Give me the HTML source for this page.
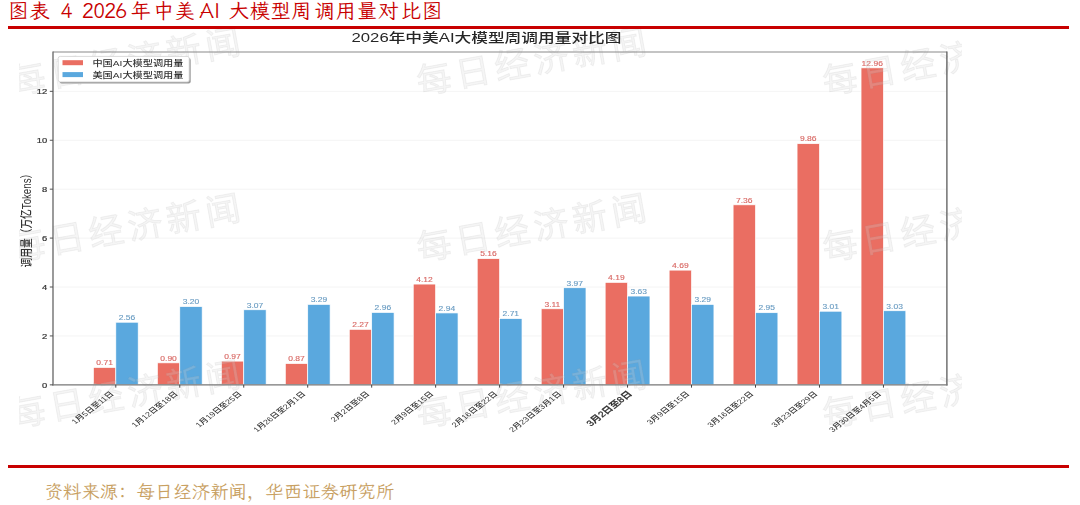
<!DOCTYPE html>
<html lang="zh"><head><meta charset="utf-8"><title>2026年中美AI大模型周调用量对比图</title>
<style>
html,body{margin:0;padding:0;background:#fff;}
body{width:1080px;height:505px;position:relative;overflow:hidden;}
.tsvg text.title{font-family:"LXGW WenKai TC","Noto Serif CJK SC",serif;font-size:20.5px;fill:#c80000;white-space:pre;}
.rl{position:absolute;left:8px;width:1061px;height:3px;background:#c80000;}
.src{position:absolute;left:44.6px;top:477.4px;font:18.4px "LXGW WenKai TC","Noto Serif CJK SC",serif;color:#c8a062;white-space:nowrap;}
.src .p{font-family:"Noto Serif CJK SC",serif;}
svg{position:absolute;left:0;top:0;}
svg text{font-family:"Liberation Sans","Noto Sans CJK SC",sans-serif;}
.val{font-size:6.6px;text-anchor:middle;stroke-width:0.12px;}
.yt{font-size:7.3px;text-anchor:end;fill:#333;stroke:#333;stroke-width:0.2px;}
.xt{font-size:6.95px;text-anchor:end;fill:#333;font-weight:500;}
.xt.b{font-size:8.1px;font-weight:500;fill:#2a2a2a;stroke:#2a2a2a;stroke-width:0.25px;}
.yl{font-size:9.7px;text-anchor:middle;fill:#333;font-weight:500;}
.ct{font-size:12.95px;text-anchor:middle;fill:#262626;font-weight:500;}
.lg{font-size:7.9px;fill:#333;font-weight:500;}
.wm{font-size:35px;letter-spacing:4.6px;text-anchor:middle;fill:#d4d4d4;fill-opacity:0.24;stroke:#9a9a9a;stroke-opacity:0.13;stroke-width:0.9px;font-weight:400;}
.chart{filter:blur(0.4px);}
</style></head><body>
<svg class="tsvg" width="1080" height="26" viewBox="0 0 1080 26"><text class="title" x="7.94 29.34 49.90 60.34 72.70 81.80 92.89 103.98 115.09 130.55 153.34 174.44 199.61 213.88 228.84 249.75 270.55 291.05 313.64 335.55 356.75 378.05 400.84 421.64" y="18.16">图表 4 2026年中美AI大模型周调用量对比图</text></svg>
<div class="rl" style="top:26.4px"></div>
<svg class="chart" width="1080" height="505" viewBox="0 0 1080 505">
<defs><clipPath id="cimg"><rect x="19" y="29" width="943" height="404"/></clipPath></defs>
<line x1="53.0" x2="946.9" y1="384.85" y2="384.85" stroke="#f1f1f1" stroke-width="0.8"/>
<line x1="53.0" x2="946.9" y1="335.93" y2="335.93" stroke="#f1f1f1" stroke-width="0.8"/>
<line x1="53.0" x2="946.9" y1="287.01" y2="287.01" stroke="#f1f1f1" stroke-width="0.8"/>
<line x1="53.0" x2="946.9" y1="238.09" y2="238.09" stroke="#f1f1f1" stroke-width="0.8"/>
<line x1="53.0" x2="946.9" y1="189.17" y2="189.17" stroke="#f1f1f1" stroke-width="0.8"/>
<line x1="53.0" x2="946.9" y1="140.25" y2="140.25" stroke="#f1f1f1" stroke-width="0.8"/>
<line x1="53.0" x2="946.9" y1="91.33" y2="91.33" stroke="#f1f1f1" stroke-width="0.8"/>
<rect x="93.40" y="367.48" width="22.4" height="17.37" fill="#EA6E62" stroke="#fff" stroke-width="0.7"/>
<rect x="115.80" y="322.23" width="22.4" height="62.62" fill="#5AA8DE" stroke="#fff" stroke-width="0.7"/>
<rect x="157.37" y="362.84" width="22.4" height="22.01" fill="#EA6E62" stroke="#fff" stroke-width="0.7"/>
<rect x="179.77" y="306.58" width="22.4" height="78.27" fill="#5AA8DE" stroke="#fff" stroke-width="0.7"/>
<rect x="221.34" y="361.12" width="22.4" height="23.73" fill="#EA6E62" stroke="#fff" stroke-width="0.7"/>
<rect x="243.74" y="309.76" width="22.4" height="75.09" fill="#5AA8DE" stroke="#fff" stroke-width="0.7"/>
<rect x="285.31" y="363.57" width="22.4" height="21.28" fill="#EA6E62" stroke="#fff" stroke-width="0.7"/>
<rect x="307.71" y="304.38" width="22.4" height="80.47" fill="#5AA8DE" stroke="#fff" stroke-width="0.7"/>
<rect x="349.28" y="329.33" width="22.4" height="55.52" fill="#EA6E62" stroke="#fff" stroke-width="0.7"/>
<rect x="371.68" y="312.45" width="22.4" height="72.40" fill="#5AA8DE" stroke="#fff" stroke-width="0.7"/>
<rect x="413.25" y="284.07" width="22.4" height="100.78" fill="#EA6E62" stroke="#fff" stroke-width="0.7"/>
<rect x="435.65" y="312.94" width="22.4" height="71.91" fill="#5AA8DE" stroke="#fff" stroke-width="0.7"/>
<rect x="477.22" y="258.64" width="22.4" height="126.21" fill="#EA6E62" stroke="#fff" stroke-width="0.7"/>
<rect x="499.62" y="318.56" width="22.4" height="66.29" fill="#5AA8DE" stroke="#fff" stroke-width="0.7"/>
<rect x="541.19" y="308.78" width="22.4" height="76.07" fill="#EA6E62" stroke="#fff" stroke-width="0.7"/>
<rect x="563.59" y="287.74" width="22.4" height="97.11" fill="#5AA8DE" stroke="#fff" stroke-width="0.7"/>
<rect x="605.16" y="282.36" width="22.4" height="102.49" fill="#EA6E62" stroke="#fff" stroke-width="0.7"/>
<rect x="627.56" y="296.06" width="22.4" height="88.79" fill="#5AA8DE" stroke="#fff" stroke-width="0.7"/>
<rect x="669.13" y="270.13" width="22.4" height="114.72" fill="#EA6E62" stroke="#fff" stroke-width="0.7"/>
<rect x="691.53" y="304.38" width="22.4" height="80.47" fill="#5AA8DE" stroke="#fff" stroke-width="0.7"/>
<rect x="733.10" y="204.82" width="22.4" height="180.03" fill="#EA6E62" stroke="#fff" stroke-width="0.7"/>
<rect x="755.50" y="312.69" width="22.4" height="72.16" fill="#5AA8DE" stroke="#fff" stroke-width="0.7"/>
<rect x="797.07" y="143.67" width="22.4" height="241.18" fill="#EA6E62" stroke="#fff" stroke-width="0.7"/>
<rect x="819.47" y="311.23" width="22.4" height="73.62" fill="#5AA8DE" stroke="#fff" stroke-width="0.7"/>
<rect x="861.04" y="67.85" width="22.4" height="317.00" fill="#EA6E62" stroke="#fff" stroke-width="0.7"/>
<rect x="883.44" y="310.74" width="22.4" height="74.11" fill="#5AA8DE" stroke="#fff" stroke-width="0.7"/>
<text transform="translate(104.60 365.28) scale(1.29 1)" class="val" fill="#D86864" stroke="#D86864">0.71</text>
<text transform="translate(127.00 320.03) scale(1.29 1)" class="val" fill="#6A9CC2" stroke="#6A9CC2">2.56</text>
<text transform="translate(168.57 360.64) scale(1.29 1)" class="val" fill="#D86864" stroke="#D86864">0.90</text>
<text transform="translate(190.97 304.38) scale(1.29 1)" class="val" fill="#6A9CC2" stroke="#6A9CC2">3.20</text>
<text transform="translate(232.54 358.92) scale(1.29 1)" class="val" fill="#D86864" stroke="#D86864">0.97</text>
<text transform="translate(254.94 307.56) scale(1.29 1)" class="val" fill="#6A9CC2" stroke="#6A9CC2">3.07</text>
<text transform="translate(296.51 361.37) scale(1.29 1)" class="val" fill="#D86864" stroke="#D86864">0.87</text>
<text transform="translate(318.91 302.18) scale(1.29 1)" class="val" fill="#6A9CC2" stroke="#6A9CC2">3.29</text>
<text transform="translate(360.48 327.13) scale(1.29 1)" class="val" fill="#D86864" stroke="#D86864">2.27</text>
<text transform="translate(382.88 310.25) scale(1.29 1)" class="val" fill="#6A9CC2" stroke="#6A9CC2">2.96</text>
<text transform="translate(424.45 281.87) scale(1.29 1)" class="val" fill="#D86864" stroke="#D86864">4.12</text>
<text transform="translate(446.85 310.74) scale(1.29 1)" class="val" fill="#6A9CC2" stroke="#6A9CC2">2.94</text>
<text transform="translate(488.42 256.44) scale(1.29 1)" class="val" fill="#D86864" stroke="#D86864">5.16</text>
<text transform="translate(510.82 316.36) scale(1.29 1)" class="val" fill="#6A9CC2" stroke="#6A9CC2">2.71</text>
<text transform="translate(552.39 306.58) scale(1.29 1)" class="val" fill="#D86864" stroke="#D86864">3.11</text>
<text transform="translate(574.79 285.54) scale(1.29 1)" class="val" fill="#6A9CC2" stroke="#6A9CC2">3.97</text>
<text transform="translate(616.36 280.16) scale(1.29 1)" class="val" fill="#D86864" stroke="#D86864">4.19</text>
<text transform="translate(638.76 293.86) scale(1.29 1)" class="val" fill="#6A9CC2" stroke="#6A9CC2">3.63</text>
<text transform="translate(680.33 267.93) scale(1.29 1)" class="val" fill="#D86864" stroke="#D86864">4.69</text>
<text transform="translate(702.73 302.18) scale(1.29 1)" class="val" fill="#6A9CC2" stroke="#6A9CC2">3.29</text>
<text transform="translate(744.30 202.62) scale(1.29 1)" class="val" fill="#D86864" stroke="#D86864">7.36</text>
<text transform="translate(766.70 310.49) scale(1.29 1)" class="val" fill="#6A9CC2" stroke="#6A9CC2">2.95</text>
<text transform="translate(808.27 141.47) scale(1.29 1)" class="val" fill="#D86864" stroke="#D86864">9.86</text>
<text transform="translate(830.67 309.03) scale(1.29 1)" class="val" fill="#6A9CC2" stroke="#6A9CC2">3.01</text>
<text transform="translate(872.24 65.65) scale(1.29 1)" class="val" fill="#D86864" stroke="#D86864">12.96</text>
<text transform="translate(894.64 308.54) scale(1.29 1)" class="val" fill="#6A9CC2" stroke="#6A9CC2">3.03</text>
<g clip-path="url(#cimg)"><text transform="translate(125.4 61.6) rotate(-10.2)" x="2.3" y="12.5" class="wm">每日经济新闻</text><text transform="translate(531.4 61.6) rotate(-10.2)" x="2.3" y="12.5" class="wm">每日经济新闻</text><text transform="translate(937.4 61.6) rotate(-10.2)" x="2.3" y="12.5" class="wm">每日经济新闻</text><text transform="translate(125.4 228) rotate(-10.2)" x="2.3" y="12.5" class="wm">每日经济新闻</text><text transform="translate(531.4 228) rotate(-10.2)" x="2.3" y="12.5" class="wm">每日经济新闻</text><text transform="translate(937.4 228) rotate(-10.2)" x="2.3" y="12.5" class="wm">每日经济新闻</text><text transform="translate(125.4 394.4) rotate(-10.2)" x="2.3" y="12.5" class="wm">每日经济新闻</text><text transform="translate(531.4 394.4) rotate(-10.2)" x="2.3" y="12.5" class="wm">每日经济新闻</text><text transform="translate(937.4 394.4) rotate(-10.2)" x="2.3" y="12.5" class="wm">每日经济新闻</text></g>
<line x1="53.0" x2="946.9" y1="52.0" y2="52.0" stroke="#8a8a8a" stroke-width="1.1"/>
<line x1="946.9" x2="946.9" y1="51.5" y2="385.45000000000005" stroke="#5a5a5a" stroke-width="1.3"/>
<line x1="53.0" x2="53.0" y1="51.5" y2="385.45000000000005" stroke="#707070" stroke-width="1.4"/>
<line x1="52.4" x2="947.5" y1="384.85" y2="384.85" stroke="#7a7a7a" stroke-width="1.4"/>
<line x1="49.8" x2="53.0" y1="384.85" y2="384.85" stroke="#555" stroke-width="1"/>
<text transform="translate(47.20 387.75) scale(1.29 1)" class="yt">0</text>
<line x1="49.8" x2="53.0" y1="335.93" y2="335.93" stroke="#555" stroke-width="1"/>
<text transform="translate(47.20 338.83) scale(1.29 1)" class="yt">2</text>
<line x1="49.8" x2="53.0" y1="287.01" y2="287.01" stroke="#555" stroke-width="1"/>
<text transform="translate(47.20 289.91) scale(1.29 1)" class="yt">4</text>
<line x1="49.8" x2="53.0" y1="238.09" y2="238.09" stroke="#555" stroke-width="1"/>
<text transform="translate(47.20 240.99) scale(1.29 1)" class="yt">6</text>
<line x1="49.8" x2="53.0" y1="189.17" y2="189.17" stroke="#555" stroke-width="1"/>
<text transform="translate(47.20 192.07) scale(1.29 1)" class="yt">8</text>
<line x1="49.8" x2="53.0" y1="140.25" y2="140.25" stroke="#555" stroke-width="1"/>
<text transform="translate(47.20 143.15) scale(1.29 1)" class="yt">10</text>
<line x1="49.8" x2="53.0" y1="91.33" y2="91.33" stroke="#555" stroke-width="1"/>
<text transform="translate(47.20 94.23) scale(1.29 1)" class="yt">12</text>
<line x1="115.80" x2="115.80" y1="384.85" y2="387.65000000000003" stroke="#444" stroke-width="1"/>
<text transform="translate(114.30 394.35) scale(1.29 1) rotate(-45)" class="xt">1月5日至11日</text>
<line x1="179.77" x2="179.77" y1="384.85" y2="387.65000000000003" stroke="#444" stroke-width="1"/>
<text transform="translate(178.27 394.35) scale(1.29 1) rotate(-45)" class="xt">1月12日至18日</text>
<line x1="243.74" x2="243.74" y1="384.85" y2="387.65000000000003" stroke="#444" stroke-width="1"/>
<text transform="translate(242.24 394.35) scale(1.29 1) rotate(-45)" class="xt">1月19日至25日</text>
<line x1="307.71" x2="307.71" y1="384.85" y2="387.65000000000003" stroke="#444" stroke-width="1"/>
<text transform="translate(306.21 394.35) scale(1.29 1) rotate(-45)" class="xt">1月26日至2月1日</text>
<line x1="371.68" x2="371.68" y1="384.85" y2="387.65000000000003" stroke="#444" stroke-width="1"/>
<text transform="translate(370.18 394.35) scale(1.29 1) rotate(-45)" class="xt">2月2日至8日</text>
<line x1="435.65" x2="435.65" y1="384.85" y2="387.65000000000003" stroke="#444" stroke-width="1"/>
<text transform="translate(434.15 394.35) scale(1.29 1) rotate(-45)" class="xt">2月9日至15日</text>
<line x1="499.62" x2="499.62" y1="384.85" y2="387.65000000000003" stroke="#444" stroke-width="1"/>
<text transform="translate(498.12 394.35) scale(1.29 1) rotate(-45)" class="xt">2月16日至22日</text>
<line x1="563.59" x2="563.59" y1="384.85" y2="387.65000000000003" stroke="#444" stroke-width="1"/>
<text transform="translate(562.09 394.35) scale(1.29 1) rotate(-45)" class="xt">2月23日至3月1日</text>
<line x1="627.56" x2="627.56" y1="384.85" y2="387.65000000000003" stroke="#444" stroke-width="1"/>
<text transform="translate(632.56 394.35) scale(1.29 1) rotate(-45)" class="xt b">3月2日至8日</text>
<line x1="691.53" x2="691.53" y1="384.85" y2="387.65000000000003" stroke="#444" stroke-width="1"/>
<text transform="translate(690.03 394.35) scale(1.29 1) rotate(-45)" class="xt">3月9日至15日</text>
<line x1="755.50" x2="755.50" y1="384.85" y2="387.65000000000003" stroke="#444" stroke-width="1"/>
<text transform="translate(754.00 394.35) scale(1.29 1) rotate(-45)" class="xt">3月16日至22日</text>
<line x1="819.47" x2="819.47" y1="384.85" y2="387.65000000000003" stroke="#444" stroke-width="1"/>
<text transform="translate(817.97 394.35) scale(1.29 1) rotate(-45)" class="xt">3月23日至29日</text>
<line x1="883.44" x2="883.44" y1="384.85" y2="387.65000000000003" stroke="#444" stroke-width="1"/>
<text transform="translate(881.94 394.35) scale(1.29 1) rotate(-45)" class="xt">3月30日至4月5日</text>
<text transform="translate(31.30 218.10) scale(1.29 1) rotate(-90)" class="yl">调用量（万亿Tokens）</text>
<text transform="translate(486.50 42.30) scale(1.29 1)" class="ct">2026年中美AI大模型周调用量对比图</text>
<rect x="59.7" y="57.9" width="131.0" height="25.500000000000007" rx="2" fill="#9a9a9a"/>
<rect x="58.2" y="56.4" width="131.0" height="25.500000000000007" rx="2" fill="#fff" stroke="#d0d0d0" stroke-width="0.8"/>
<rect x="62.5" y="60.2" width="20.5" height="5" fill="#EA6E62"/>
<rect x="62.5" y="72.1" width="20.5" height="5" fill="#5AA8DE"/>
<text transform="translate(92.40 66.20) scale(1.29 1)" class="lg">中国AI大模型调用量</text>
<text transform="translate(92.40 78.20) scale(1.29 1)" class="lg">美国AI大模型调用量</text>
</svg>
<div class="rl" style="top:464.6px"></div>
<div class="src">资料来源<span class="p">：</span>每日经济新闻<span class="p">，</span>华西证券研究所</div>
</body></html>
